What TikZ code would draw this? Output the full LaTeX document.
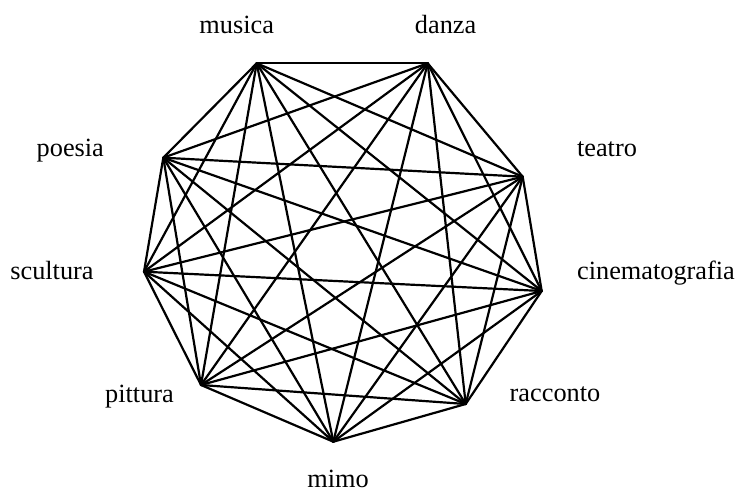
\documentclass[tikz,border=0pt]{standalone}
\usepackage{fontspec}
\setmainfont{Liberation Serif}
\begin{document}
\begin{tikzpicture}[x=1pt,y=-1pt,
  lbl/.style={inner sep=0pt, anchor=base, font=\fontsize{26.3}{30}\selectfont},
  edge/.style={line width=2.2pt, line cap=round, line join=round}]
\useasboundingbox (0,0) rectangle (739,493);
\coordinate (v1) at (256.7,63.3);
\coordinate (v2) at (427.7,63.3);
\coordinate (v3) at (522.7,176.7);
\coordinate (v4) at (541.7,291);
\coordinate (v5) at (465.7,404);
\coordinate (v6) at (333.3,441.7);
\coordinate (v7) at (201,385);
\coordinate (v8) at (144,271.7);
\coordinate (v9) at (163.3,157.7);
\foreach \i in {1,...,8}{
  \pgfmathtruncatemacro{\s}{\i+1}
  \foreach \j in {\s,...,9}{
    \draw[edge] (v\i) -- (v\j);
  }
}
\node[lbl] (lmusica) at (236.7,33.3) {musica};
\node[lbl] (ldanza) at (445.6,33.3) {danza};
\node[lbl] (lteatro) at (607,156) {teatro};
\node[lbl] (lcinema) at (656,279.5) {cinematografia};
\node[lbl] (lracconto) at (555,401.7) {racconto};
\node[lbl] (lmimo) at (338,487.5) {mimo};
\node[lbl] (lpittura) at (139.5,402.7) {pittura};
\node[lbl] (lscultura) at (52,279.3) {scultura};
\node[lbl] (lpoesia) at (70.3,156) {poesia};
\end{tikzpicture}
\end{document}
